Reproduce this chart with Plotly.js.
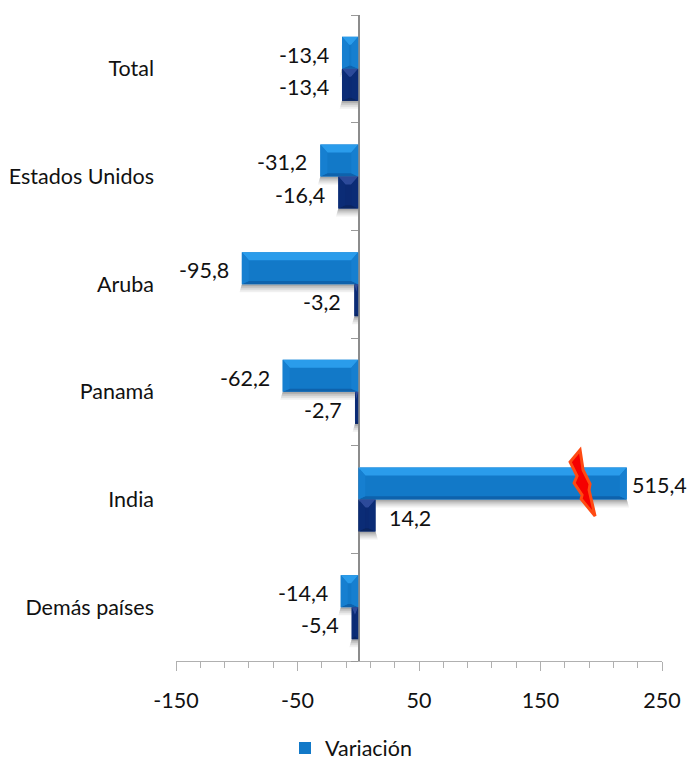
<!DOCTYPE html>
<html><head><meta charset="utf-8">
<script src="https://cdn.plot.ly/plotly-3.0.1.min.js"></script>
<style>html,body{margin:0;padding:0;background:#fff}</style></head>
<body><div id="c" style="width:688px;height:759px"></div>
<script>
const categories = ["Total","Estados Unidos","Aruba","Panamá","India","Demás países"];
const variacion = [-13.4,-31.2,-95.8,-62.2,515.4,-14.4];
const variacionDrawn = [-13.4,-31.2,-95.8,-62.2,221,-14.4]; // India's bar is cut short in the source
const participacion = [-13.4,-16.4,-3.2,-2.7,14.2,-5.4];
const xTicks = [-150,-50,50,150,250];
const FONT = 'Lato,"Open Sans",sans-serif';
const FS = 21.5;
const L = 175.5, T = 15, W = 486.5, H = 646;
const ys = categories.map((_,i)=>i);
const BW = 0.2975;
const pxX = 400/W, pxY = 6/H;
const shapes = [];
function poly(pts,fill,layer,op){
  shapes.push({type:'path',xref:'x',yref:'y',layer:layer||'above',opacity:op==null?1:op,
    fillcolor:fill,line:{width:0},
    path:'M'+pts.map(p=>p[0]+','+p[1]).join('L')+'Z'});
}
function bar(v,yc,c){
  const t=yc-BW/2,b=yc+BW/2,s=v<0?-1:1;
  const dx=s*Math.min(7*pxX,Math.abs(v)/2), dy=8*pxY;
  // drop shadow, soft steps
  [[8,.06],[6,.08],[4,.1],[2,.14]].forEach(q=>{
    poly([[0,b],[v,b],[v+s*q[0]*.3*pxX,b+q[0]*pxY],[0,b+q[0]*pxY]],'#000','below',q[1]);
  });
  // bevels
  poly([[0,t],[v,t],[v-dx,t+dy],[dx,t+dy]],c.top);
  poly([[0,b],[v,b],[v-dx,b-dy*0.4],[dx,b-dy*0.4]],c.bot);
  poly([[v,t],[v,b],[v-dx,b-dy*0.4],[v-dx,t+dy]],c.end);
  poly([[0,t],[0,b],[dx,b-dy*0.4],[dx,t+dy]],c.end);
}
const cA={top:'#2A9CEB',bot:'#0E62AC',end:'#167FD0',fill:'#1279C8'};
const cB={top:'#2C4A9A',bot:'#0A2560',end:'#0B2C76',fill:'#0B2A73'};
ys.forEach(i=>{
  bar(variacionDrawn[i],i-BW/2,cA);
  bar(participacion[i],i+BW/2,cB);
});
// lightning-bolt break mark on the cut bar
const boltPx=[[580,450],[570,462],[577,476],[574,483],[582,495],[581,499],[595,516],[589,490],[590,484],[583,470]];
shapes.push({type:'path',xref:'paper',yref:'paper',fillcolor:'#F50000',line:{color:'#FF4A12',width:3},
  path:'M'+boltPx.map(p=>((p[0]-L)/W)+','+(1-(p[1]-T)/H)).join('L')+'Z'});

const fmt=v=>String(v).replace('.',',');
const annotations=[];
ys.forEach(i=>{
  [[variacionDrawn[i],variacion[i],i-BW/2],[participacion[i],participacion[i],i+BW/2]].forEach(a=>{
    annotations.push({x:a[0],y:a[2],xref:'x',yref:'y',text:fmt(a[1]),showarrow:false,
      xanchor:a[0]<0?'right':'left',xshift:a[0]<0?-11:(a[0]>100?3:11),yshift:-2,
      font:{family:FONT,size:FS,color:'#111'}});
  });
});
const data=[
 {type:'bar',orientation:'h',name:'Variación',y:ys,x:variacionDrawn,
  marker:{color:cA.fill,line:{width:0}}},
 {type:'bar',orientation:'h',name:'Participación',y:ys,x:participacion,showlegend:false,
  marker:{color:cB.fill,line:{width:0}}},
 {type:'scatter',mode:'markers',x:[null],y:[null],yaxis:'y2',showlegend:false,hoverinfo:'skip'}
];
const layout={
 width:688,height:759,paper_bgcolor:'#fff',plot_bgcolor:'#fff',
 margin:{l:L,r:688-L-W,t:T,b:759-T-H,pad:0},
 barmode:'group',bargap:0.405,bargroupgap:0,
 font:{family:FONT,size:FS,color:'#111'},
 xaxis:{range:[-150,250],tickmode:'array',tickvals:xTicks,ticktext:xTicks.map(String),
   ticks:'outside',ticklen:9,tickcolor:'#B0B0B0',tickwidth:1,showgrid:false,zeroline:false,
   showline:true,linecolor:'#B0B0B0',linewidth:1,ticklabelstandoff:11,
   tickfont:{family:FONT,size:FS,color:'#111'},
   minor:{tickmode:'array',tickvals:[-130,-110,-90,-70,-30,-10,10,30,70,90,110,130,170,190,210,230],ticks:'outside',ticklen:6,tickcolor:'#B0B0B0',tickwidth:1,showgrid:false}},
 yaxis:{range:[5.5,-0.5],tickmode:'array',tickvals:ys,ticktext:categories,ticks:'',showline:false,
   showgrid:false,zeroline:false,ticklabelstandoff:21,tickfont:{family:FONT,size:FS,color:'#111'}},
 yaxis2:{overlaying:'y',anchor:'free',side:'left',position:150/400,range:[5.5,-0.5],tickmode:'array',
   tickvals:[-0.5,0.5,1.5,2.5,3.5,4.5,5.5],ticktext:['','','','','','',''],ticks:'outside',ticklen:7,tickcolor:'#999',
   showline:true,linecolor:'#8C8C8C',linewidth:1.5,showgrid:false,zeroline:false},
 showlegend:true,
 legend:{xref:'container',yref:'container',x:285/688,xanchor:'left',y:1-748/759,yanchor:'middle',orientation:'h',font:{family:FONT,size:FS,color:'#111'},bgcolor:'rgba(0,0,0,0)'},
 shapes,annotations
};
Plotly.newPlot('c',data,layout,{displayModeBar:false,staticPlot:true});
</script></body></html>
